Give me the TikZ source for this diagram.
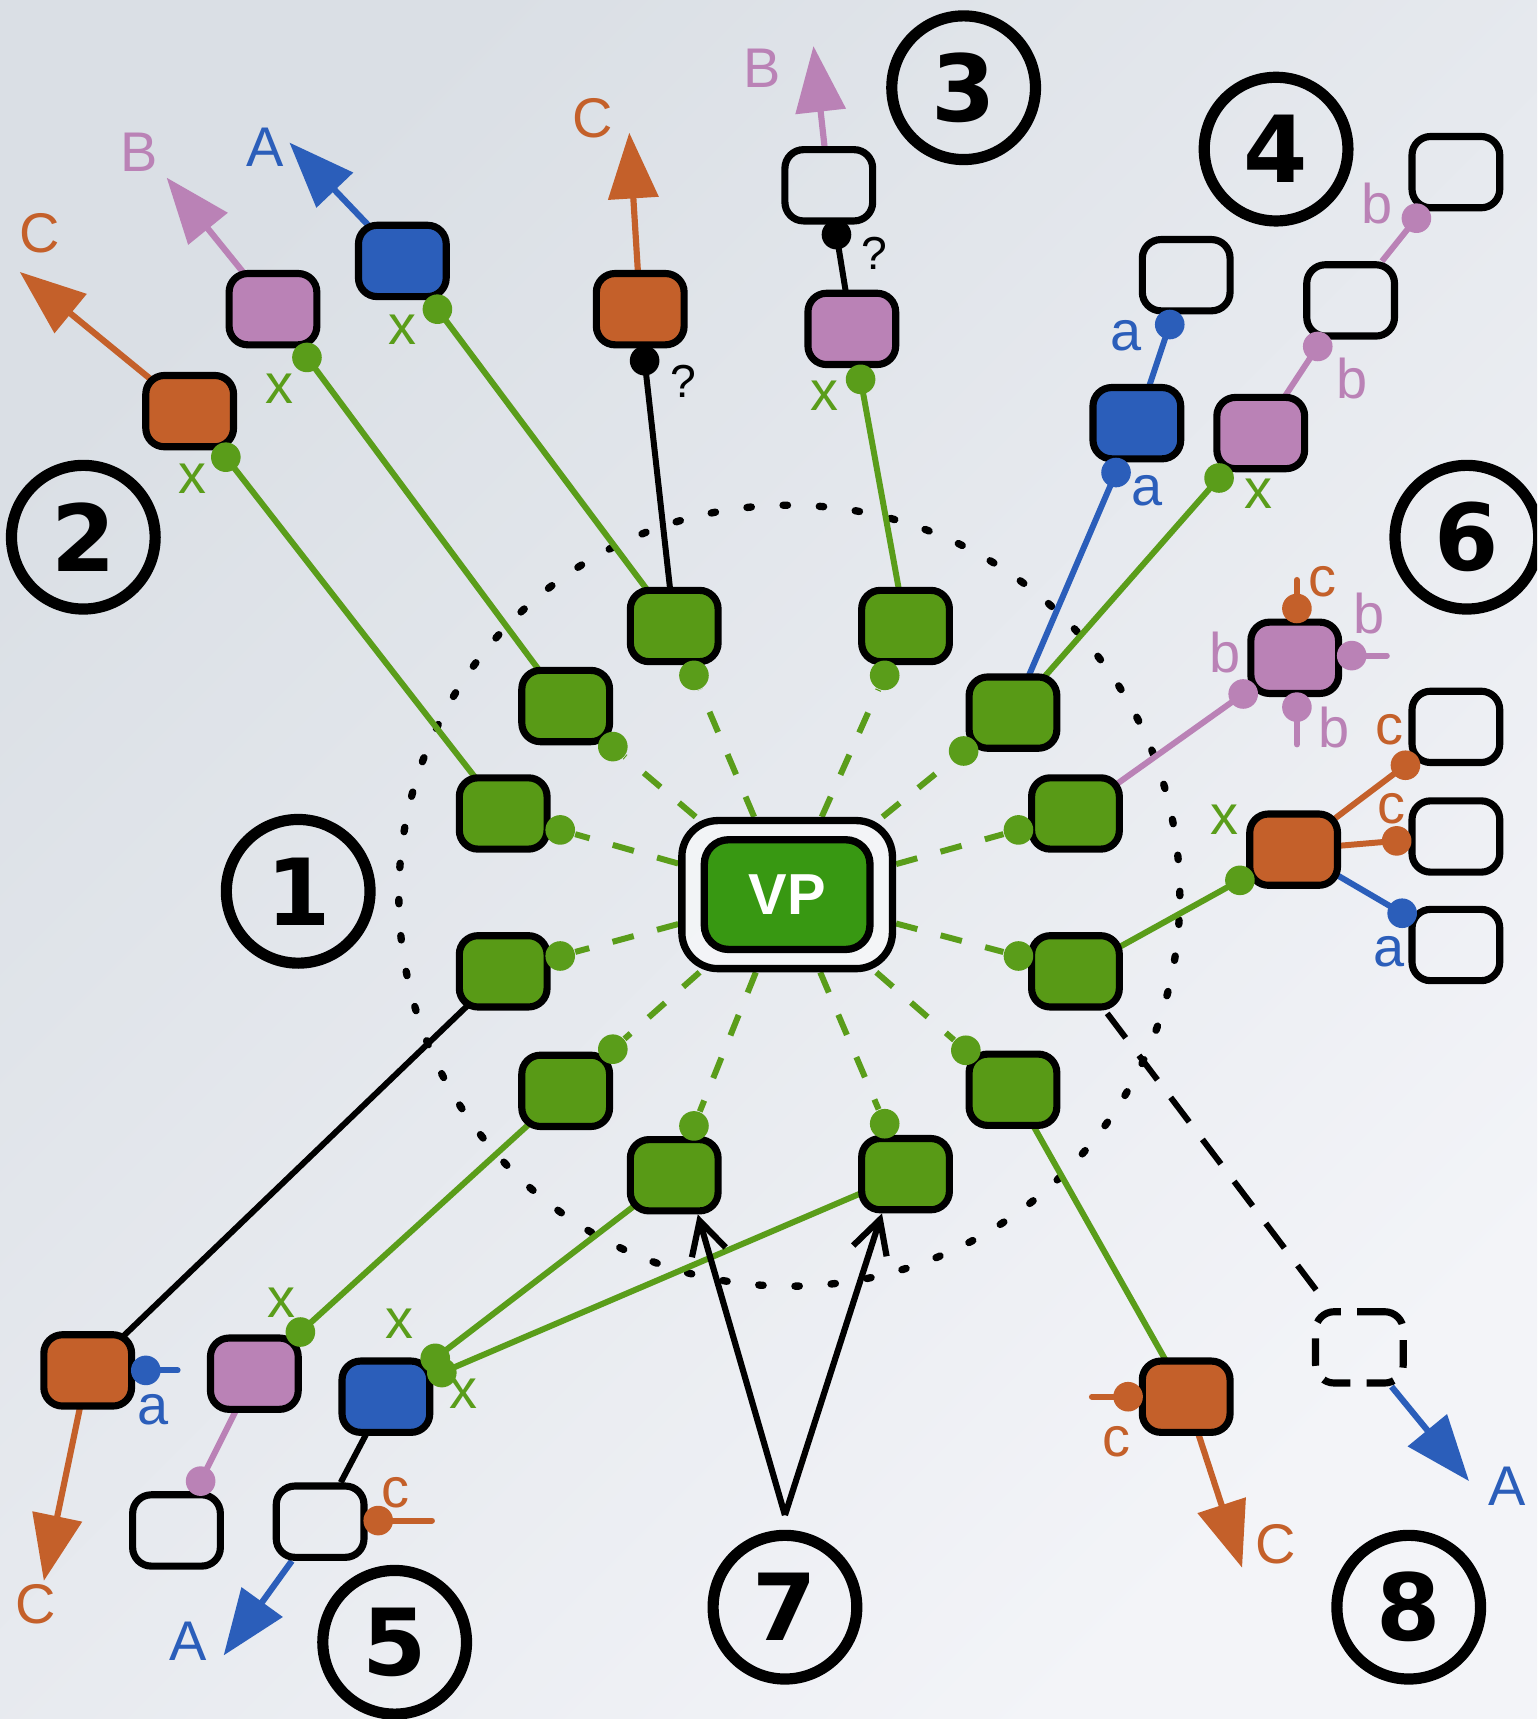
\documentclass[tikz,border=0pt]{standalone}
\usepackage{fontspec}
\setmainfont{Liberation Sans}
\newfontfamily\numfont{DejaVu Sans}
\usetikzlibrary{arrows.meta,calc}

\definecolor{bgtop}{RGB}{218,223,229}
\definecolor{bgbot}{RGB}{243,244,248}
\definecolor{cgreen}{RGB}{88,154,22}
\definecolor{cvp}{RGB}{56,152,18}
\definecolor{cline}{RGB}{90,157,26}
\definecolor{corange}{RGB}{196,96,42}
\definecolor{cpink}{RGB}{186,130,182}
\definecolor{cblue}{RGB}{43,94,186}

\pgfdeclarelayer{back}
\pgfdeclarelayer{edges}
\pgfsetlayers{back,edges,main}

\tikzset{
  nbox/.style={draw=black, line width=1.85pt, rounded corners=0.17cm,
    minimum width=0.80cm, minimum height=0.65cm, inner sep=0pt},
  gbox/.style={nbox, fill=cgreen},
  obox/.style={nbox, fill=corange},
  pbox/.style={nbox, fill=cpink},
  bbox/.style={nbox, fill=cblue},
  wbox/.style={nbox},
  dbox/.style={nbox, dash pattern=on 0.25cm off 0.15cm},
  lolly/.style={circle, inner sep=0pt, minimum size=0.27cm},
  glolly/.style={lolly, fill=cline},
  ololly/.style={lolly, fill=corange},
  plolly/.style={lolly, fill=cpink},
  blolly/.style={lolly, fill=cblue},
  klolly/.style={lolly, fill=black},
  lab/.style={inner sep=0pt, font=\fontsize{14.5}{17}\selectfont},
  qlab/.style={inner sep=0pt, font=\fontsize{12}{14}\selectfont},
  num/.style={circle, draw=black, line width=2.9pt, minimum size=1.31cm,
    inner sep=0pt, font=\numfont\bfseries\fontsize{24}{28}\selectfont},
  conn/.style={line width=1.55pt},
  stub/.style={line width=1.55pt, line cap=round},
  arr/.style={line width=1.6pt, -{Triangle[length=0.6cm,width=0.45cm]}},
  ringline/.style={cline, line width=1.55pt, dash pattern=on 0.2cm off 0.22cm},
  border/.style={black, line width=1.9pt, line cap=round, dash pattern=on 0.04cm off 0.29cm},
  pointer/.style={black, line width=1.6pt, -{Straight Barb[length=0.3cm,width=0.32cm]}},
}

\begin{document}
\begin{tikzpicture}[x=0.01cm,y=-0.01cm]
\useasboundingbox (0,0) rectangle (1402,1568);
\clip (0,0) rectangle (1402,1568);

\begin{pgfonlayer}{back}
  \shade[top color=bgtop, bottom color=bgbot, shading angle=45] (0,0) rectangle (1402,1568);
\end{pgfonlayer}

% central node
\node[draw=black, line width=1.9pt, rounded corners=0.33cm, fill=white, fill opacity=0.5,
  minimum width=1.92cm, minimum height=1.35cm] (vp) at (718,816) {};
\node[draw=black, line width=1.9pt, rounded corners=0.22cm, fill=cvp, text=white,
  minimum width=1.51cm, minimum height=1.0cm, font=\bfseries\fontsize{15}{17}\selectfont]
  (vpin) at (718,816) {VP};

% ring of green nodes
\node[gbox] (g1) at (615,571) {};
\node[gbox] (g2) at (826,571) {};
\node[gbox] (g3) at (516,644) {};
\node[gbox] (g4) at (924,650) {};
\node[gbox] (g5) at (459,742) {};
\node[gbox] (g6) at (981,742) {};
\node[gbox] (g7) at (459,886) {};
\node[gbox] (g8) at (981,886) {};
\node[gbox] (g9) at (516,995) {};
\node[gbox] (g10) at (924,994) {};
\node[gbox] (g11) at (615,1072) {};
\node[gbox] (g12) at (826,1071) {};

% outer nodes
\node[obox] (o1) at (173,375) {};
\node[pbox] (p1) at (249,282) {};
\node[bbox] (b1) at (367,238) {};
\node[obox] (o2) at (584,282) {};
\node[pbox] (p2) at (777,300) {};
\node[wbox] (w1) at (756,169) {};
\node[bbox] (b2) at (1037,386) {};
\node[pbox] (p3) at (1150,395) {};
\node[wbox] (w2) at (1082,251) {};
\node[wbox] (w3) at (1232,274) {};
\node[wbox] (w4) at (1328,157) {};
\node[pbox] (p4) at (1181,600) {};
\node[obox] (o3) at (1180,775) {};
\node[wbox] (w5) at (1328,663) {};
\node[wbox] (w6) at (1328,763) {};
\node[wbox] (w7) at (1328,862) {};
\node[obox] (o4) at (80,1250) {};
\node[pbox] (p5) at (232,1253) {};
\node[wbox] (w8) at (161,1396) {};
\node[bbox] (b3) at (352,1274) {};
\node[wbox] (w9) at (292,1388) {};
\node[obox] (o5) at (1082,1274) {};
\node[dbox] (w10) at (1240,1229) {};

% ring lollipops
\node[glolly] (d1) at (633,616) {};
\node[glolly] (d2) at (807,616) {};
\node[glolly] (d3) at (559,681) {};
\node[glolly] (d4) at (879,685) {};
\node[glolly] (d5) at (511,757) {};
\node[glolly] (d6) at (929,757) {};
\node[glolly] (d7) at (511,872) {};
\node[glolly] (d8) at (929,872) {};
\node[glolly] (d9) at (559,957) {};
\node[glolly] (d10) at (881,958) {};
\node[glolly] (d11) at (633,1027) {};
\node[glolly] (d12) at (807,1025) {};

% outer lollipops
\node[glolly] (o1d) at (206,417) {};
\node[glolly] (p1d) at (280,326) {};
\node[glolly] (b1d) at (399,282) {};
\node[klolly] (o2d) at (588,329) {};
\node[glolly] (p2d) at (785,346) {};
\node[klolly] (w1d) at (763,214) {};
\node[blolly] (b2d) at (1018,431) {};
\node[blolly] (w2d) at (1067,296) {};
\node[glolly] (p3d) at (1112,436) {};
\node[plolly] (w3d) at (1202,316) {};
\node[plolly] (w4d) at (1292,199) {};
\node[plolly] (p4d) at (1134,633) {};
\node[ololly] (p4t) at (1183,555) {};
\node[plolly] (p4r) at (1233,598) {};
\node[plolly] (p4b) at (1183,645) {};
\node[glolly] (o3d) at (1131,803) {};
\node[ololly] (w5d) at (1282,698) {};
\node[ololly] (w6d) at (1274,767) {};
\node[blolly] (w7d) at (1279,833) {};
\node[blolly] (o4r) at (133,1250) {};
\node[glolly] (p5d) at (274,1215) {};
\node[plolly] (w8d) at (183,1351) {};
\node[glolly] (b3d) at (397,1239) {};
\node[glolly] (b3e) at (403,1252) {};
\node[ololly] (w9r) at (345,1387) {};
\node[ololly] (o5l) at (1029,1274) {};

% free ends
\coordinate (p4ts) at (1183,529);
\coordinate (p4rs) at (1265,598);
\coordinate (p4bs) at (1183,679);
\coordinate (o4rs) at (162,1250);
\coordinate (w9rs) at (394,1387);
\coordinate (o5ls) at (996,1274);
\coordinate (o1t) at (18,248);
\coordinate (p1t) at (152,162);
\coordinate (b1t) at (264,130);
\coordinate (o2t) at (574,121);
\coordinate (w1t) at (742,42);
\coordinate (o4t) at (40,1442);
\coordinate (w9t) at (204,1510);
\coordinate (o5t) at (1133,1430);
\coordinate (w10t) at (1340,1351);
\coordinate (v7) at (716,1382);

% labels
\node[lab, text=corange] at (36,213) {C};
\node[lab, text=cline] at (176,437) {x};
\node[lab, text=cpink] at (127,139) {B};
\node[lab, text=cline] at (255,355) {x};
\node[lab, text=cblue] at (242,134) {A};
\node[lab, text=cline] at (367,301) {x};
\node[lab, text=corange] at (541,108) {C};
\node[qlab] at (623,348) {?};
\node[lab, text=cpink] at (695,62) {B};
\node[qlab] at (798,231) {?};
\node[lab, text=cline] at (752,361) {x};
\node[lab, text=cblue] at (1027,306) {a};
\node[lab, text=cblue] at (1046,448) {a};
\node[lab, text=cline] at (1148,450) {x};
\node[lab, text=cpink] at (1233,345) {b};
\node[lab, text=cpink] at (1256,186) {b};
\node[lab, text=cpink] at (1117,595) {b};
\node[lab, text=corange] at (1206,531) {c};
\node[lab, text=cpink] at (1249,560) {b};
\node[lab, text=cpink] at (1217,664) {b};
\node[lab, text=cline] at (1117,748) {x};
\node[lab, text=corange] at (1267,666) {c};
\node[lab, text=corange] at (1269,738) {c};
\node[lab, text=cblue] at (1267,868) {a};
\node[lab, text=cblue] at (140,1286) {a};
\node[lab, text=corange] at (33,1463) {C};
\node[lab, text=cline] at (257,1188) {x};
\node[lab, text=cline] at (364,1207) {x};
\node[lab, text=cline] at (423,1271) {x};
\node[lab, text=corange] at (361,1362) {c};
\node[lab, text=cblue] at (172,1497) {A};
\node[lab, text=corange] at (1018,1315) {c};
\node[lab, text=corange] at (1164,1409) {C};
\node[lab, text=cblue] at (1375,1356) {A};

% numbered markers
\node[num] (n1) at (272,813) {1};
\node[num] (n2) at (76,490) {2};
\node[num] (n3) at (879,80) {3};
\node[num] (n4) at (1164,136) {4};
\node[num] (n5) at (360,1498) {5};
\node[num] (n6) at (1338,490) {6};
\node[num] (n7) at (716,1466) {7};
\node[num] (n8) at (1285,1466) {8};

\begin{pgfonlayer}{edges}
  % dotted boundary
  \draw[border] (720,817) circle[radius=3.56cm];
  % dashed spokes
  \foreach \i in {1,...,12} \draw[ringline] (vp) -- (d\i);
  % group 2
  \draw[conn, cline] (g5.center) -- (o1d.center);
  \draw[conn, cline] (g3.center) -- (p1d.center);
  \draw[conn, cline] (g1.center) -- (b1d.center);
  \draw[arr, corange] (o1.center) -- (o1t);
  \draw[arr, cpink] (p1.center) -- (p1t);
  \draw[arr, cblue] (b1.center) -- (b1t);
  % group 3
  \draw[conn, black] (g1.center) -- (o2d.center);
  \draw[arr, corange] (o2.center) -- (o2t);
  \draw[conn, cline] (g2.center) -- (p2d.center);
  \draw[conn, black] (p2.center) -- (w1d.center);
  \draw[arr, cpink] (w1) -- (w1t);
  % group 4
  \draw[conn, cblue] (g4.center) -- (b2d.center);
  \draw[conn, cline] (g4.center) -- (p3d.center);
  \draw[conn, cblue] (b2.center) -- (w2d.center);
  \draw[conn, cpink] (p3.center) -- (w3d.center);
  \draw[conn, cpink] (w3) -- (w4d.center);
  % group 6
  \draw[conn, cpink] (g6.center) -- (p4d.center);
  \draw[stub, corange] (p4t.center) -- (p4ts);
  \draw[stub, cpink] (p4r.center) -- (p4rs);
  \draw[stub, cpink] (p4b.center) -- (p4bs);
  \draw[conn, cline] (g8.center) -- (o3d.center);
  \draw[conn, corange] (o3.center) -- (w5d.center);
  \draw[conn, corange] (o3.center) -- (w6d.center);
  \draw[conn, cblue] (o3.center) -- (w7d.center);
  % group 1
  \draw[conn, black] (g7.center) -- (o4.center);
  \draw[stub, cblue] (o4r.center) -- (o4rs);
  \draw[arr, corange] (o4.center) -- (o4t);
  % group 5
  \draw[conn, cline] (g9.center) -- (p5d.center);
  \draw[conn, cpink] (p5.center) -- (w8d.center);
  \draw[conn, cline] (g11.center) -- (b3d.center);
  \draw[conn, cline] (g12.center) -- (b3e.center);
  \draw[conn, black] (b3.center) -- (w9);
  \draw[stub, corange] (w9r.center) -- (w9rs);
  \draw[arr, cblue] (w9) -- (w9t);
  % group 8
  \draw[conn, cline] (g10.center) -- (o5.center);
  \draw[stub, corange] (o5l.center) -- (o5ls);
  \draw[arr, corange] (o5.center) -- (o5t);
  \draw[conn, black, dash pattern=on 0.28cm off 0.2cm, shorten >=0.15cm] (g8.center) -- (w10);
  \draw[arr, cblue] (w10) -- (w10t);
  % group 7
  \draw[pointer] (v7) -- (g11.-59);
  \draw[pointer] (v7) -- (g12.-121);
\end{pgfonlayer}
\end{tikzpicture}
\end{document}
